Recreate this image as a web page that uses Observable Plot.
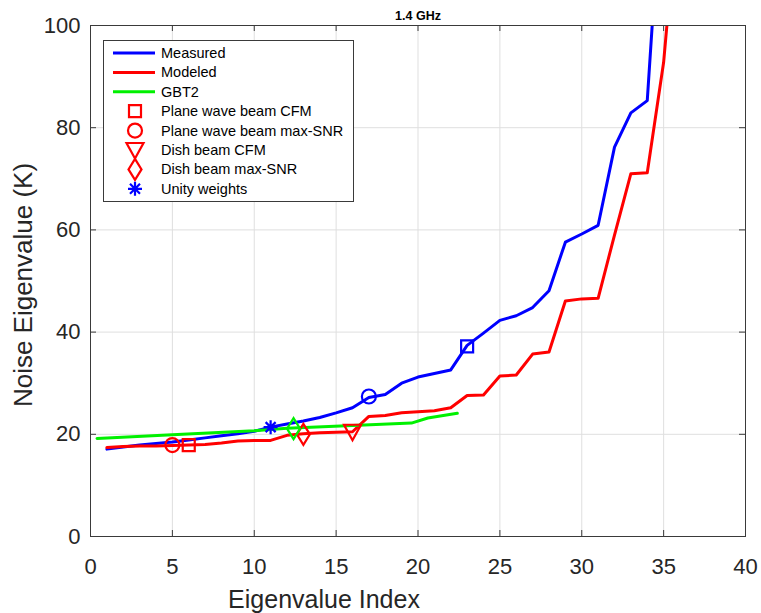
<!DOCTYPE html>
<html><head><meta charset="utf-8">
<script src="https://cdn.jsdelivr.net/npm/d3@7"></script>
<script src="https://cdn.jsdelivr.net/npm/@observablehq/plot@0.6"></script>
<style>body{margin:0;background:#fff;font-family:"Liberation Sans",Arial,sans-serif}</style>
</head><body><div id="chart"></div>
<script>
// ---- data ----
const titleText = "1.4 GHz";
const xLabel = "Eigenvalue Index";
const yLabel = "Noise Eigenvalue (K)";
const xTicks = [0, 5, 10, 15, 20, 25, 30, 35, 40];
const yTicks = [0, 20, 40, 60, 80, 100];

const measuredX = [1,2,3,4,5,6,7,8,9,10,11,12,13,14,15,16,17,18,19,20,21,22,23,24,25,26,27,28,29,30,31,32,33,34,35];
const measuredY = [17.1,17.5,17.9,18.2,18.5,18.9,19.3,19.7,20.1,20.6,21.4,22.0,22.6,23.3,24.2,25.2,27.2,27.8,30.0,31.2,31.9,32.6,37.4,39.8,42.3,43.2,44.8,48.1,57.6,59.2,60.9,76.2,82.9,85.3,134];

const modeledX = [1,2,3,4,5,6,7,8,9,10,11,12,13,14,15,16,17,18,19,20,21,22,23,24,25,26,27,28,29,30,31,32,33,34,35,36];
const modeledY = [17.4,17.6,17.7,17.7,17.8,17.9,18.0,18.3,18.7,18.8,18.8,19.8,20.1,20.3,20.4,20.5,23.5,23.7,24.2,24.4,24.6,25.2,27.6,27.7,31.4,31.6,35.7,36.1,46.1,46.5,46.6,59.0,71.0,71.2,92.8,129];

const gbt2X = [0.4, 5, 10, 12, 16, 19.6, 20.6, 22.4];
const gbt2Y = [19.2, 19.9, 20.7, 21.2, 21.7, 22.2, 23.2, 24.1];

const seriesNames = ["Measured", "Modeled", "GBT2"];
const markerNames = ["Plane wave beam CFM", "Plane wave beam max-SNR", "Dish beam CFM", "Dish beam max-SNR", "Unity weights"];
const markerKinds = ["square", "circle", "triangle", "diamond", "asterisk"];
const markerLegendSeries = ["Modeled", "Modeled", "Modeled", "Modeled", "Measured"];

const pointX = [6, 5, 16, 13, 12.4, 11, 17, 23];
const pointY = [17.9, 17.9, 20.5, 20.0, 21.1, 21.4, 27.4, 37.2];
const pointKind = ["square", "circle", "triangle", "diamond", "diamond", "asterisk", "circle", "square"];
const pointSeries = ["Modeled", "Modeled", "Modeled", "Modeled", "GBT2", "Measured", "Measured", "Measured"];

// ---- styles ----
const colors = {Measured: "#0000ff", Modeled: "#ff0000", GBT2: "#00f000"};
const ink = "#262626";

function drawSymbol(kind, ctx) {
  switch (kind) {
    case "square": ctx.rect(-6, -6, 12, 12); break;
    case "circle": ctx.moveTo(7, 0); ctx.arc(0, 0, 7, 0, 2 * Math.PI); break;
    case "triangle": ctx.moveTo(-8.5, -7); ctx.lineTo(8.5, -7); ctx.lineTo(0, 8.5); ctx.closePath(); break;
    case "diamond": ctx.moveTo(0, -10.5); ctx.lineTo(6.5, 0); ctx.lineTo(0, 10.5); ctx.lineTo(-6.5, 0); ctx.closePath(); break;
    case "asterisk":
      ctx.moveTo(0, -7); ctx.lineTo(0, 7);
      ctx.moveTo(-7, 0); ctx.lineTo(7, 0);
      ctx.moveTo(-5, -5); ctx.lineTo(5, 5);
      ctx.moveTo(-5, 5); ctx.lineTo(5, -5);
      break;
  }
}
const symbolObj = k => ({draw: (ctx) => drawSymbol(k, ctx)});

const W = 761, H = 613, mL = 90, mR = 16, mT = 25, mB = 77;
const innerW = W - mL - mR, innerH = H - mT - mB;

const measured = measuredX.map((x, i) => ({x, y: measuredY[i]}));
const modeled = modeledX.map((x, i) => ({x, y: modeledY[i]}));
const gbt2 = gbt2X.map((x, i) => ({x, y: gbt2Y[i]}));
const points = pointX.map((x, i) => ({x, y: pointY[i], kind: pointKind[i], series: pointSeries[i]}));

const dotMarks = [];
for (const k of ["square", "circle", "triangle", "diamond", "asterisk"]) {
  for (const s of seriesNames) {
    const sub = points.filter(p => p.kind === k && p.series === s);
    if (sub.length) dotMarks.push(Plot.dot(sub, {x: "x", y: "y", symbol: symbolObj(k), r: 7, fill: "none", stroke: colors[s], strokeWidth: 2.2}));
  }
}

const plot = Plot.plot({
  width: W, height: H,
  marginLeft: mL, marginRight: mR, marginTop: mT, marginBottom: mB,
  style: {fontFamily: "'Liberation Sans', Arial, sans-serif", color: ink, background: "#fff"},
  x: {domain: [0, 40]},
  y: {domain: [0, 100]},
  marks: [
    Plot.ruleX(xTicks, {stroke: "#dfdfdf", strokeWidth: 1}),
    Plot.ruleY(yTicks, {stroke: "#dfdfdf", strokeWidth: 1}),
    Plot.line(measured, {x: "x", y: "y", stroke: colors.Measured, strokeWidth: 3, clip: true}),
    Plot.line(modeled, {x: "x", y: "y", stroke: colors.Modeled, strokeWidth: 3, clip: true}),
    Plot.line(gbt2, {x: "x", y: "y", stroke: colors.GBT2, strokeWidth: 3, clip: true}),
    ...dotMarks,
    Plot.frame({stroke: "#3a3a3a", strokeWidth: 1}),
    Plot.ruleX(xTicks, {insetTop: innerH - 6, stroke: "#3a3a3a"}),
    Plot.ruleX(xTicks, {insetBottom: innerH - 6, stroke: "#3a3a3a"}),
    Plot.ruleY(yTicks, {insetRight: innerW - 6, stroke: "#3a3a3a"}),
    Plot.ruleY(yTicks, {insetLeft: innerW - 6, stroke: "#3a3a3a"}),
    Plot.axisX(xTicks, {tickSize: 0, tickPadding: 22, fontSize: 22, label: null}),
    Plot.axisY(yTicks, {tickSize: 0, tickPadding: 10, fontSize: 22, label: null}),
    Plot.text([titleText], {text: d => d, frameAnchor: "top", dy: -10, fontWeight: "bold", fontSize: 12.5, lineAnchor: "middle", fill: "#000"}),
    Plot.text([xLabel], {text: d => d, frameAnchor: "bottom", textAnchor: "middle", dx: -94, dy: 63, fontSize: 25, lineAnchor: "middle"}),
    Plot.text([yLabel], {text: d => d, frameAnchor: "left", textAnchor: "middle", rotate: -90, dx: -67, dy: 4, fontSize: 26, lineAnchor: "middle"})
  ]
});

// ---- legend ----
const svg = d3.select(plot);
const lg = svg.append("g").attr("font-family", "'Liberation Sans', Arial, sans-serif").attr("text-anchor", "start");
lg.append("rect").attr("x", 103.5).attr("y", 40.5).attr("width", 250).attr("height", 161)
  .attr("fill", "#fff").attr("stroke", "#3a3a3a").attr("stroke-width", 1);
const rowY = i => 53 + i * 19.4;
seriesNames.forEach((s, i) => {
  lg.append("line").attr("x1", 113).attr("x2", 155).attr("y1", rowY(i)).attr("y2", rowY(i))
    .attr("stroke", colors[s]).attr("stroke-width", 3);
  lg.append("text").attr("x", 161).attr("y", rowY(i)).attr("dy", "0.35em").attr("font-size", 14.5).attr("fill", "#000").attr("text-anchor", "start").text(s);
});
markerNames.forEach((name, j) => {
  const i = j + 3;
  const p = d3.path();
  drawSymbol(markerKinds[j], p);
  lg.append("path").attr("d", p.toString()).attr("transform", `translate(135,${rowY(i)})`)
    .attr("fill", "none").attr("stroke", colors[markerLegendSeries[j]]).attr("stroke-width", 2.2);
  lg.append("text").attr("x", 161).attr("y", rowY(i)).attr("dy", "0.35em").attr("font-size", 14.5).attr("fill", "#000").attr("text-anchor", "start").text(name);
});

document.getElementById("chart").appendChild(plot);
</script>
</body></html>
